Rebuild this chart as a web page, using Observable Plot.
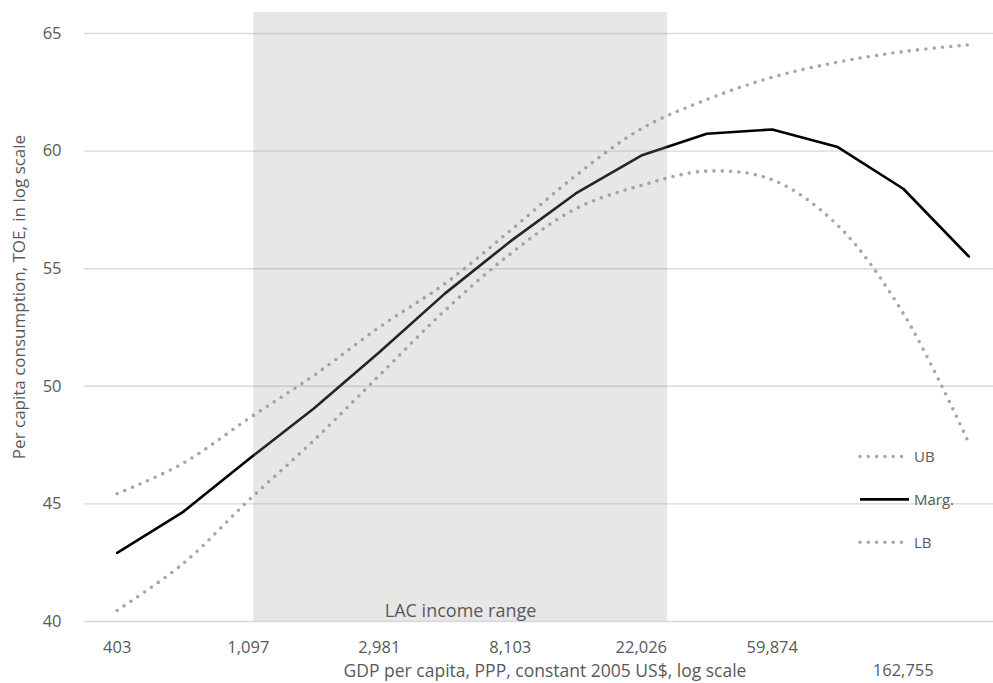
<!DOCTYPE html>
<html>
<head>
<meta charset="utf-8">
<script src="https://cdn.jsdelivr.net/npm/d3@7"></script>
<script src="https://cdn.jsdelivr.net/npm/@observablehq/plot@0.6"></script>
<style>
  html, body { margin: 0; padding: 0; background: #fff; }
  #wrap { position: relative; width: 993px; height: 683px; overflow: hidden; font-family: "Open Sans", sans-serif; }
  #legend { position: absolute; left: 0; top: 0; pointer-events: none; }
</style>
</head>
<body>
<div id="wrap"></div>
<script>
// ---- data ----
const gdp = [403, 665, 1097, 1808, 2981, 4915, 8103, 13360, 22026, 36316, 59874, 98716, 162755, 268337];
const marg = [42.92, 44.65, 46.89, 49.06, 51.45, 53.94, 56.16, 58.20, 59.81, 60.74, 60.92, 60.17, 58.40, 55.52];
const ub = [45.43, 46.72, 48.62, 50.46, 52.51, 54.36, 56.62, 58.96, 60.95, 62.19, 63.14, 63.78, 64.23, 64.52];
const lb = [40.47, 42.45, 45.14, 47.70, 50.46, 53.22, 55.63, 57.55, 58.54, 59.15, 58.78, 56.84, 53.10, 47.60];
const xTickValues = [403, 1097, 2981, 8103, 22026, 59874, 162755];
const xTickLabels = ["403", "1,097", "2,981", "8,103", "22,026", "59,874", "162,755"];
const yTicks = [40, 45, 50, 55, 60, 65];
const lacRange = [1143, 26900];
const lacLabel = "LAC income range";
const seriesNames = ["UB", "Marg.", "LB"];

const rows = (vals) => gdp.map((g, i) => ({ x: g, y: vals[i] }));
const xTickRows = xTickValues.map((v, i) => ({ x: v, label: xTickLabels[i] }));
const textColor = "#595959";
const dotted = { stroke: "#a6a6a6", strokeWidth: 3.6, strokeDasharray: "0 8.3", strokeLinecap: "round", curve: "catmull-rom" };

const chart = Plot.plot({
  width: 993,
  height: 683,
  marginLeft: 84,
  marginRight: 0,
  marginTop: 12,
  marginBottom: 62,
  style: { fontFamily: "Open Sans, sans-serif", color: textColor, background: "#fff" },
  x: { type: "log", domain: [314, 344551], range: [84, 1001], axis: null },
  y: { domain: [40, 65], range: [621, 33], axis: null },
  marks: [
    Plot.ruleY(yTicks, { stroke: "#d9d9d9", strokeWidth: 1.4 }),
    Plot.line(rows(ub), { x: "x", y: "y", ...dotted }),
    Plot.line(rows(lb), { x: "x", y: "y", ...dotted }),
    Plot.line(rows(marg), { x: "x", y: "y", stroke: "#000", strokeWidth: 2.6, strokeLinejoin: "round" }),
    Plot.rect([{ x1: lacRange[0], x2: lacRange[1] }], { x1: "x1", x2: "x2", y1: 40, y2: 65.9, fill: "#9a9a9a", fillOpacity: 0.24 }),
    Plot.text([lacLabel], { x: Math.sqrt(lacRange[0] * lacRange[1]), y: 40, text: d => d, dy: -10, fontSize: 18, fill: textColor, textAnchor: "middle" }),
    // y tick labels
    Plot.text(yTicks, { x: 314, y: d => d, text: d => String(d), textAnchor: "end", dx: -23, fontSize: 16.5, fill: textColor }),
    // x tick labels
    Plot.text(xTickRows.slice(0, 6), { x: "x", y: 40, text: "label", dy: 26, fontSize: 16.5, fill: textColor }),
    Plot.text(xTickRows.slice(6), { x: "x", y: 40, text: "label", dy: 49, fontSize: 16.5, fill: textColor }),
    // axis titles
    Plot.text(["GDP per capita, PPP, constant 2005 US$, log scale"], { frameAnchor: "bottom", text: d => d, dx: 6, dy: 55, fontSize: 17.5, fill: textColor }),
    Plot.text(["Per capita consumption, TOE, in log scale"], { frameAnchor: "left", text: d => d, rotate: -90, textAnchor: "middle", dx: -65, dy: -20, fontSize: 17, fill: textColor })
  ]
});
document.getElementById("wrap").appendChild(chart);

// ---- legend ----
const ns = "http://www.w3.org/2000/svg";
const leg = document.createElementNS(ns, "svg");
leg.setAttribute("id", "legend");
leg.setAttribute("width", 993);
leg.setAttribute("height", 683);
const legY = [456.5, 499.3, 542.3];
seriesNames.forEach((name, i) => {
  const ln = document.createElementNS(ns, "line");
  ln.setAttribute("x1", 860); ln.setAttribute("x2", 909);
  ln.setAttribute("y1", legY[i]); ln.setAttribute("y2", legY[i]);
  if (name === "Marg.") {
    ln.setAttribute("stroke", "#000"); ln.setAttribute("stroke-width", 2.8);
  } else {
    ln.setAttribute("stroke", "#a6a6a6"); ln.setAttribute("stroke-width", 3.4);
    ln.setAttribute("stroke-dasharray", "0 8.3"); ln.setAttribute("stroke-linecap", "round");
  }
  leg.appendChild(ln);
  const t = document.createElementNS(ns, "text");
  t.setAttribute("x", 914); t.setAttribute("y", legY[i]);
  t.setAttribute("dy", "0.35em");
  t.setAttribute("font-size", 15);
  t.setAttribute("font-family", "Open Sans, sans-serif");
  t.setAttribute("fill", textColor);
  t.textContent = name;
  leg.appendChild(t);
});
document.getElementById("wrap").appendChild(leg);
</script>
</body>
</html>
